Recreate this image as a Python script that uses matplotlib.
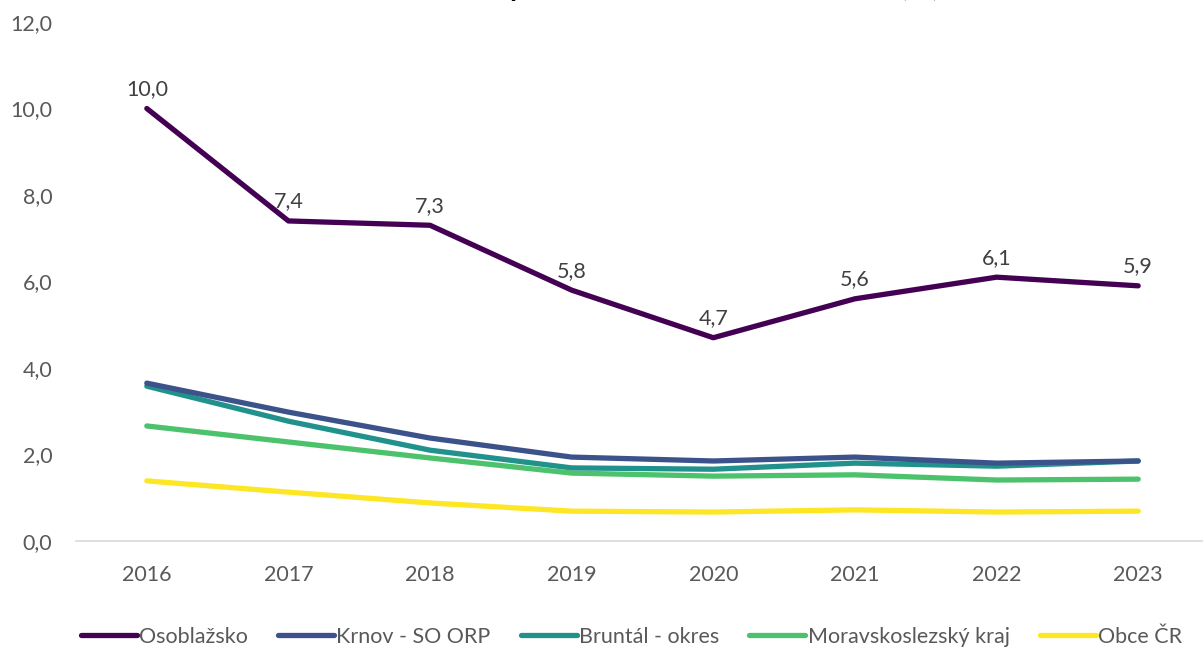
import matplotlib.pyplot as plt
from matplotlib.lines import Line2D

# data
years = ['2016', '2017', '2018', '2019', '2020', '2021', '2022', '2023']
osoblazsko = [10.0, 7.4, 7.3, 5.8, 4.7, 5.6, 6.1, 5.9]
krnov = [3.65, 2.98, 2.38, 1.94, 1.85, 1.94, 1.80, 1.85]
bruntal = [3.58, 2.77, 2.10, 1.69, 1.66, 1.80, 1.73, 1.85]
msk = [2.66, 2.29, 1.92, 1.57, 1.50, 1.53, 1.41, 1.43]
obce_cr = [1.39, 1.13, 0.88, 0.69, 0.67, 0.72, 0.67, 0.69]

series = [
    ('Osoblažsko', osoblazsko, '#440154'),
    ('Krnov - SO ORP', krnov, '#3b528b'),
    ('Bruntál - okres', bruntal, '#21918c'),
    ('Moravskoslezský kraj', msk, '#4cc26c'),
    ('Obce ČR', obce_cr, '#fde725'),
]

plt.rcParams['font.family'] = ['Lato', 'DejaVu Sans']
txt = '#595959'
fs = 15.5

fig = plt.figure(figsize=(12.03, 6.49), dpi=100)
ax = fig.add_axes([76 / 1203, 1 - 541 / 649, 1133 / 1203, 519 / 649])

x = range(len(years))
# draw from back to front so the purple line sits on top
for name, vals, col in reversed(series):
    ax.plot(x, vals, color=col, lw=3.8, solid_capstyle='round', solid_joinstyle='round')

for i, v in enumerate(osoblazsko):
    ax.text(i, v + 0.22, f'{v:.1f}'.replace('.', ','), ha='center', va='bottom',
            fontsize=fs, color='#404040')

ax.set_xlim(-0.5, 7.5)
ax.set_ylim(0, 12)
ax.set_xticks(list(x))
ax.set_xticklabels(years)
ax.set_yticks([0, 2, 4, 6, 8, 10, 12])
ax.set_yticklabels([f'{t:.1f}'.replace('.', ',') for t in [0, 2, 4, 6, 8, 10, 12]])
ax.tick_params(length=0, labelsize=fs, colors=txt)
ax.tick_params(axis='x', pad=17)
ax.tick_params(axis='y', pad=17)
for s in ['top', 'right', 'left']:
    ax.spines[s].set_visible(False)
ax.spines['bottom'].set_color('#d9d9d9')
ax.spines['bottom'].set_linewidth(1.2)

# title, mostly cut off by the top edge in the original
fig.text(0.5, 1 + 4 / 649, 'Podíl nezaměstnaných osob v letech 2016–2023 (%)',
         ha='center', va='baseline', fontsize=21, fontweight='bold', color='black')

handles = [Line2D([0], [0], color=c, lw=3.8, solid_capstyle='round') for _, _, c in series]
labels = [n for n, _, _ in series]
fig.legend(handles, labels, loc='center', bbox_to_anchor=(0.525, 1 - 637 / 649), ncol=5,
           frameon=False, fontsize=fs, labelcolor=txt, handlelength=2.6,
           handletextpad=0.1, columnspacing=1.4)

fig.savefig('out.png', dpi=100)
